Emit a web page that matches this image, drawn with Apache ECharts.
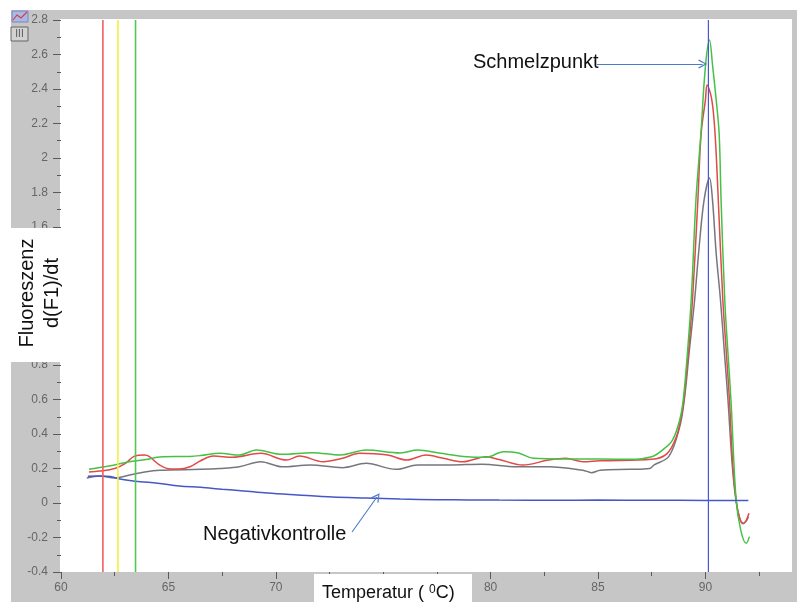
<!DOCTYPE html>
<html><head><meta charset="utf-8">
<script src="https://cdn.jsdelivr.net/npm/echarts@6/dist/echarts.min.js"></script>
<style>html,body{margin:0;padding:0;background:#fff}#c{width:797px;height:602px}</style>
</head><body><div id="c"></div>
<script>
// ---- data ----
const greenT = [61.3,62.3,63.0,64.1,64.6,66.0,66.5,67.4,68.3,69.1,70.3,71.7,73.0,74.2,75.8,76.6,77.6,78.9,79.8,80.6,81.3,82.0,83.5,85.1,86.5,87.5,88.0,88.47,88.8,88.97,89.15,89.34,89.56,89.79,90.0,90.19,90.34,90.5,90.64,90.73,90.9,91.05,91.19,91.43,91.65,91.9,92.05];
const greenV = [0.195,0.216,0.235,0.255,0.267,0.27,0.275,0.288,0.278,0.307,0.282,0.292,0.278,0.307,0.29,0.307,0.29,0.268,0.265,0.297,0.29,0.259,0.255,0.255,0.253,0.268,0.307,0.365,0.48,0.6,0.85,1.18,1.757,2.14,2.53,2.684,2.53,2.34,2.14,1.757,1.18,0.87,0.597,0.017,-0.16,-0.234,-0.195];

const redT = [61.3,61.8,62.5,63.0,63.4,63.9,64.1,64.6,65.1,65.5,66.0,66.5,67.1,68.0,69.3,70.5,71.1,72.2,73.1,73.9,75.2,76.1,77.0,77.8,78.7,79.8,80.4,81.5,82.7,83.5,84.3,85.1,87.5,88.2,88.65,88.9,89.0,89.2,89.4,89.65,89.8,90.0,90.08,90.3,90.45,90.6,90.81,90.97,91.12,91.28,91.43,91.6,91.77,91.9,92.03];
const redV = [0.18,0.185,0.2,0.23,0.27,0.278,0.27,0.22,0.197,0.197,0.21,0.245,0.272,0.265,0.288,0.249,0.272,0.239,0.259,0.288,0.278,0.249,0.278,0.259,0.239,0.268,0.252,0.22,0.249,0.259,0.239,0.245,0.253,0.285,0.384,0.52,0.6,0.86,1.18,1.757,2.14,2.336,2.423,2.336,2.14,1.757,1.18,0.88,0.597,0.21,0.017,-0.09,-0.118,-0.1,-0.06];

const grayT = [61.2,61.8,62.5,63.2,63.9,64.6,66.5,67.4,68.3,69.3,70.3,71.6,73.1,74.2,75.6,76.6,78.1,79.6,81.2,82.7,84.3,84.7,85.1,86.5,87.4,87.6,88.3,88.8,89.02,89.25,89.5,89.72,89.94,90.19,90.33,90.5,90.7,90.88,91.05,91.25,91.42,91.6,91.75,91.9,92.0];
const grayV = [0.145,0.157,0.145,0.162,0.18,0.19,0.195,0.2,0.21,0.239,0.21,0.22,0.205,0.23,0.195,0.22,0.22,0.225,0.21,0.21,0.19,0.176,0.19,0.195,0.2,0.22,0.27,0.44,0.6,0.88,1.18,1.5,1.757,1.884,1.757,1.45,1.18,0.88,0.6,0.22,0.017,-0.09,-0.12,-0.105,-0.08];

const blueT = [61.25,61.8,62.3,62.75,63.2,63.7,64.5,65.5,66.5,67.5,68.5,69.6,71.0,72.65,74.2,75.8,77.5,79.0,80.4,83.0,85.0,87.5,90.0,92.0];
const blueV = [0.155,0.156,0.153,0.139,0.13,0.123,0.115,0.099,0.091,0.08,0.07,0.058,0.047,0.035,0.029,0.023,0.019,0.018,0.017,0.016,0.017,0.016,0.015,0.015];

const markerTemps = [61.95, 62.65, 63.47, 90.14];
const markerColors = ['#ee6060', '#f4ef45', '#55c655', '#4a58d0'];

const yMin = -0.4, yMax = 2.8, yStep = 0.2;
const xMin = 60, xMax = 95, xStep = 5;

const meltArrow = [[84.95, 2.545], [89.87, 2.545]];
const negArrow = [[73.55, -0.168], [74.71, 0.035]];

// ---- build ----
const zip = (t, v) => t.map((x, i) => [x, v[i]]);
const chevron = 'path://M5,0 L10,9 L9,10 L5,2.5 L1,10 L0,9 Z';

const curveSeries = [
  {name: 'grau', t: grayT, v: grayV, color: '#76767e'},
  {name: 'rot', t: redT, v: redV, color: '#e04a48'},
  {name: 'grün', t: greenT, v: greenV, color: '#45c245'},
  {name: 'Negativkontrolle', t: blueT, v: blueV, color: '#4658c8'}
].map(s => ({
  type: 'line', name: s.name, data: zip(s.t, s.v), showSymbol: false, smooth: 0.35,
  lineStyle: {color: s.color, width: 1.5}, itemStyle: {color: s.color},
  silent: true, z: 3
}));

const markerSeries = markerTemps.map((t, i) => ({
  type: 'line', data: [[t, yMin], [t, yMax]], showSymbol: false, silent: true, z: 4,
  lineStyle: {color: markerColors[i], width: i === 3 ? 1.2 : 1.6}
}));

const arrowSeries = {
  type: 'line', data: [], silent: true, z: 5,
  markLine: {
    silent: true, symbol: ['none', chevron], symbolSize: [9, 9],
    label: {show: false},
    lineStyle: {color: '#4a7cc4', width: 1.1, type: 'solid'},
    emphasis: {disabled: true},
    data: [
      [{coord: meltArrow[0]}, {coord: meltArrow[1]}],
      [{coord: negArrow[0]}, {coord: negArrow[1]}]
    ]
  }
};

const chart = echarts.init(document.getElementById('c'), null, {renderer: 'canvas'});
const font = '"Liberation Sans", Arial, sans-serif';
chart.setOption({
  animation: false,
  backgroundColor: '#ffffff',
  grid: {left: 61, top: 20, width: 35 * 21.48, height: 552, outerBoundsMode: 'none', containLabel: false},
  xAxis: {
    type: 'value', min: xMin, max: xMax, interval: xStep,
    axisLine: {show: false, onZero: false}, splitLine: {show: false},
    axisTick: {show: true, length: 7, lineStyle: {color: '#5a5a5a'}},
    minorTick: {show: true, splitNumber: 2, length: 4, lineStyle: {color: '#5a5a5a'}},
    axisLabel: {color: '#666', fontSize: 12, fontFamily: font, margin: 10}
  },
  yAxis: {
    type: 'value', min: yMin, max: yMax, interval: yStep,
    axisLine: {show: false, onZero: false}, splitLine: {show: false},
    axisTick: {show: true, length: 8, lineStyle: {color: '#5a5a5a'}},
    minorTick: {show: true, splitNumber: 2, length: 4, lineStyle: {color: '#5a5a5a'}},
    axisLabel: {color: '#666', fontSize: 12, fontFamily: font, margin: 13}
  },
  graphic: [
    {type: 'rect', z: -10, shape: {x: 11, y: 10, width: 786, height: 592}, style: {fill: '#c6c6c6'}},
    {type: 'rect', z: -9, shape: {x: 60, y: 19, width: 732, height: 553}, style: {fill: '#ffffff'}},
    // right frame strip over the plot overflow
    {type: 'rect', z: 90, shape: {x: 792, y: 10, width: 5, height: 592}, style: {fill: '#c6c6c6'}},
    // toolbar icons
    {type: 'rect', z: 90, shape: {x: 12, y: 11, width: 16, height: 11}, style: {fill: '#aab8e6', stroke: '#7a86b8', lineWidth: 1}},
    {type: 'polyline', z: 91, shape: {points: [[13, 20], [17, 15], [21, 18], [27, 12]]}, style: {stroke: '#d04040', lineWidth: 1.2, fill: null}},
    {type: 'rect', z: 90, shape: {x: 11, y: 27, width: 17, height: 14}, style: {fill: '#d2d2d2', stroke: '#666', lineWidth: 1}},
    {type: 'text', z: 91, x: 19.5, y: 34, style: {text: 'III', font: '10px ' + font, fill: '#555', align: 'center', verticalAlign: 'middle'}},
    // y label box
    {type: 'rect', z: 100, shape: {x: 0, y: 228, width: 63, height: 134}, style: {fill: '#ffffff'}},
    {type: 'text', z: 101, x: 27.5, y: 293, rotation: Math.PI / 2, style: {text: 'Fluoreszenz', font: '20px ' + font, fill: '#111', align: 'center', verticalAlign: 'middle'}},
    {type: 'text', z: 101, x: 52, y: 293, rotation: Math.PI / 2, style: {text: 'd(F1)/dt', font: '20px ' + font, fill: '#111', align: 'center', verticalAlign: 'middle'}},
    // x label box
    {type: 'rect', z: 100, shape: {x: 314, y: 574, width: 158, height: 28}, style: {fill: '#ffffff'}},
    {type: 'text', z: 101, x: 322, y: 593, style: {
      text: '{a|Temperatur ( }{s|0}{a|C)}', align: 'left', verticalAlign: 'middle',
      rich: {a: {font: '18px ' + font, fill: '#111'}, s: {font: '12px ' + font, fill: '#111', verticalAlign: 'top'}}
    }},
    // annotations
    {type: 'text', z: 101, x: 473, y: 62, style: {text: 'Schmelzpunkt', font: '20px ' + font, fill: '#111', align: 'left', verticalAlign: 'middle'}},
    {type: 'text', z: 101, x: 203, y: 534, style: {text: 'Negativkontrolle', font: '20px ' + font, fill: '#111', align: 'left', verticalAlign: 'middle'}}
  ],
  series: [...curveSeries, ...markerSeries, arrowSeries]
});
</script></body></html>
